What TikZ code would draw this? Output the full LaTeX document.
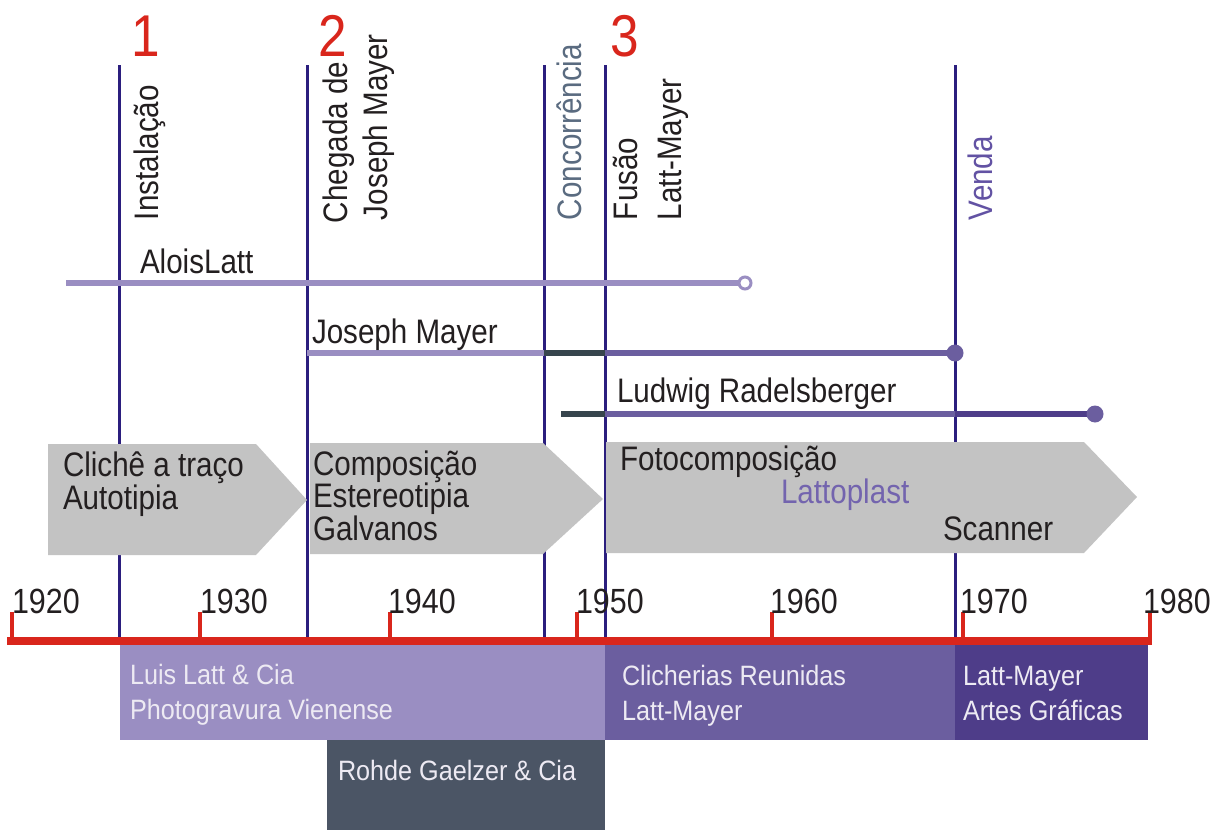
\documentclass[tikz,border=0pt]{standalone}
\usepackage{fontspec}
\setmainfont{Liberation Sans}[FakeStretch=0.87]
\newfontfamily\boxfont{Liberation Sans}[FakeStretch=0.9]
\definecolor{axisred}{HTML}{D9261C}
\definecolor{navy}{HTML}{2B1E7E}
\definecolor{lightpurple}{HTML}{9A8EC2}
\definecolor{midpurple}{HTML}{6B5E9F}
\definecolor{darkpurple}{HTML}{4E3D89}
\definecolor{slate}{HTML}{37454D}
\definecolor{slatebox}{HTML}{4B5565}
\definecolor{arrowgray}{HTML}{C3C3C3}
\definecolor{txt}{HTML}{231F20}
\definecolor{concol}{HTML}{5A6B80}
\definecolor{vendacol}{HTML}{6252A3}
\definecolor{lattocol}{HTML}{7364AE}
\definecolor{boxtxt}{HTML}{EDEAF3}
\begin{document}
\begin{tikzpicture}[x=0.5pt,y=-0.5pt,
  every node/.style={inner sep=0pt, outer sep=0pt, text=txt, font=\fontsize{17}{20}\selectfont},
  vlab/.style={rotate=90, anchor=base west},
  txtlab/.style={anchor=base west},
  yearlab/.style={anchor=base west, font=\fontsize{17.5}{21}\selectfont},
  numlab/.style={anchor=base west, text=axisred, font=\fontsize{29.5}{32}\selectfont},
  boxlab/.style={anchor=base west, text=boxtxt, font=\boxfont\fontsize{14}{17}\selectfont},
  evline/.style={draw=navy, line width=1.5pt},
  tick/.style={draw=axisred, line width=2pt},
  pline/.style={line width=3pt}]
\useasboundingbox (0,0) rectangle (1211,830);

% event lines
\foreach \n/\x in {e1/119, e2/307, e3/544, e4/605, e5/955}{
  \coordinate (\n top) at (\x,65);
  \coordinate (\n bot) at (\x,638);
  \draw[evline] (\n top) -- (\n bot);
}

% red numbers
\node[numlab] (n1) at (131,56) {1};
\node[numlab] (n2) at (318,56) {2};
\node[numlab] (n3) at (610,56) {3};

% vertical labels
\node[vlab] (l1) at (158,220) {Instalação};
\node[vlab] (l2a) at (347,223) {Chegada de};
\node[vlab] (l2b) at (387,220) {Joseph Mayer};
\node[vlab, text=concol] (l3) at (581,220) {Concorrência};
\node[vlab] (l4a) at (637,220) {Fusão};
\node[vlab] (l4b) at (681,220) {Latt-Mayer};
\node[vlab, text=vendacol] (l5) at (992,220) {Venda};

% process arrows
\fill[arrowgray] (48,444) -- (256,444) -- (307,500) -- (256,555) -- (48,555) -- cycle;
\fill[arrowgray] (310,443) -- (543,443) -- (603,499) -- (543,554) -- (310,554) -- cycle;
\fill[arrowgray] (606,442) -- (1084,442) -- (1137,497) -- (1084,553) -- (606,553) -- cycle;

\node[txtlab] (a1) at (63,476) {Clichê a traço};
\node[txtlab] (a2) at (63,509) {Autotipia};
\node[txtlab] (b1) at (313,475) {Composição};
\node[txtlab] (b2) at (313,507.5) {Estereotipia};
\node[txtlab] (b3) at (313,540.5) {Galvanos};
\node[txtlab] (c1) at (620,470) {Fotocomposição};
\node[txtlab, text=lattocol] (c2) at (781,503) {Lattoplast};
\node[txtlab] (c3) at (943,540) {Scanner};

% persons
\coordinate (alS) at (66,283);
\coordinate (alE) at (745,283);
\draw[pline, draw=lightpurple] (alS) -- (alE);
\node[circle, draw=lightpurple, fill=white, line width=1.5pt, minimum size=6pt] (alEnd) at (alE) {};
\node[txtlab] (alLab) at (140,273) {AloisLatt};

\coordinate (jmS) at (307,353);
\coordinate (jmA) at (544,353);
\coordinate (jmB) at (605,353);
\coordinate (jmE) at (955,353);
\draw[pline, draw=lightpurple] (jmS) -- (jmA);
\draw[pline, draw=slate] (jmA) -- (jmB);
\draw[pline, draw=midpurple] (jmB) -- (jmE);
\node[circle, fill=midpurple, minimum size=8.5pt] (jmEnd) at (jmE) {};
\node[txtlab] (jmLab) at (312,343) {Joseph Mayer};

\coordinate (lrS) at (561,414);
\coordinate (lrA) at (605,414);
\coordinate (lrB) at (955,414);
\coordinate (lrE) at (1095,414);
\draw[pline, draw=slate] (lrS) -- (lrA);
\draw[pline, draw=midpurple] (lrA) -- (lrB);
\draw[pline, draw=darkpurple] (lrB) -- (lrE);
\node[circle, fill=midpurple, minimum size=8.5pt] (lrEnd) at (lrE) {};
\node[txtlab] (lrLab) at (617,402) {Ludwig Radelsberger};

% company boxes
\fill[lightpurple] (120,645) rectangle (605,740);
\fill[midpurple] (605,645) rectangle (955,740);
\fill[darkpurple] (955,645) rectangle (1148,740);
\fill[slatebox] (327,740) rectangle (605,830);
\node[boxlab] (k1a) at (130,684) {Luis Latt \& Cia};
\node[boxlab] (k1b) at (130,719) {Photogravura Vienense};
\node[boxlab] (k2a) at (622,685) {Clicherias Reunidas};
\node[boxlab] (k2b) at (622,720) {Latt-Mayer};
\node[boxlab] (k3a) at (963,685) {Latt-Mayer};
\node[boxlab] (k3b) at (963,720) {Artes Gráficas};
\node[boxlab] (k4) at (338,780) {Rohde Gaelzer \& Cia};

% axis
\coordinate (axL) at (7,641);
\coordinate (axR) at (1152,641);
\draw[draw=axisred, line width=4pt] (axL) -- (axR);
\foreach \yr/\x/\lx in {1920/12/12, 1930/200/200, 1940/390/388, 1950/577/576, 1960/772/770, 1970/963/960, 1980/1150/1143}{
  \coordinate (t\yr) at (\x,612);
  \coordinate (b\yr) at (\x,641);
  \draw[tick] (t\yr) -- (b\yr);
  \node[yearlab] (y\yr) at (\lx,613) {\yr};
}
\end{tikzpicture}
\end{document}
